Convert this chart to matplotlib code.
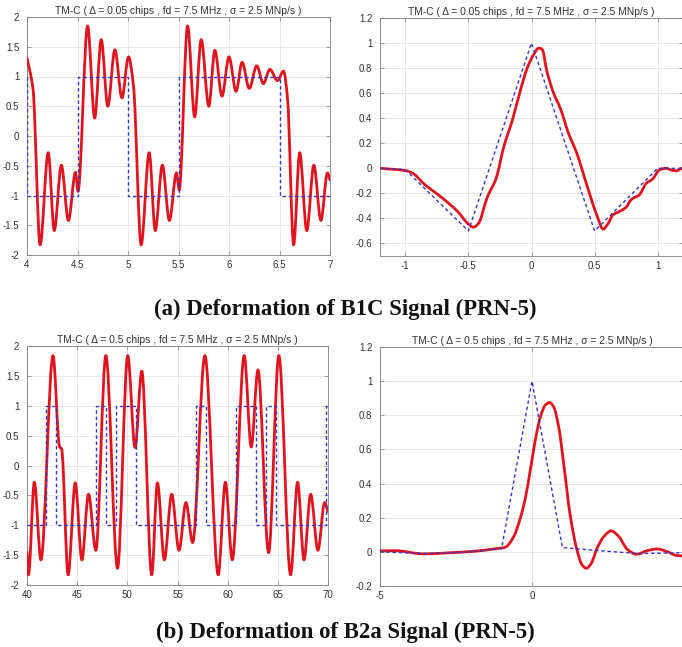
import numpy as np
import matplotlib
matplotlib.use("Agg")
import matplotlib.pyplot as plt
from matplotlib.path import Path
from matplotlib.patches import PathPatch
from matplotlib.ticker import FuncFormatter

plt.rcParams['font.family'] = ['Liberation Sans', 'DejaVu Sans']
plt.rcParams['axes.unicode_minus'] = False

# (a) B1C waveform, 4..7 chips
b1c_edges = [4, 4, 4.5, 5, 5.5, 6.5, 7]
b1c_levels = [1, -1, 1, -1, 1, -1]
b1c_x = [4.00, 4.06, 4.13, 4.21, 4.27, 4.34, 4.41, 4.48, 4.505, 4.60, 4.67, 4.735,
         4.80, 4.87, 4.94, 5.005, 5.055, 5.13, 5.21, 5.27, 5.34, 5.41, 5.48, 5.507,
         5.59, 5.66, 5.725, 5.80, 5.86, 5.93, 6.00, 6.07, 6.13, 6.20, 6.275, 6.34,
         6.405, 6.48, 6.54, 6.58, 6.64, 6.70, 6.77, 6.84, 6.91, 6.975, 7.00]
b1c_y = [1.31, 0.78, -1.83, -0.28, -1.59, -0.49, -1.42, -0.61, -0.93, 1.85, 0.30, 1.62,
         0.50, 1.45, 0.64, 1.33, 0.83, -1.83, -0.28, -1.59, -0.49, -1.42, -0.62, -0.91,
         1.85, 0.32, 1.62, 0.50, 1.44, 0.67, 1.33, 0.75, 1.24, 0.80, 1.18, 0.88,
         1.12, 0.93, 1.09, 0.62, -1.83, -0.28, -1.59, -0.49, -1.42, -0.62, -0.74]

# (a) B1C correlation
b1c_corr_ideal_x = [-1.2, -1.0, -0.5, 0.0, 0.5, 1.0, 1.2]
b1c_corr_ideal_y = [0.0, -0.01, -0.5, 1.0, -0.5, 0.0, 0.0]
b1c_corr_x = [-1.19, -0.99, -0.94, -0.845, -0.715, -0.58, -0.505, -0.46, -0.42, -0.35,
              -0.28, -0.22, -0.15, -0.086, -0.034, 0.018, 0.058, 0.084, 0.123, 0.175,
              0.228, 0.293, 0.359, 0.437, 0.516, 0.568, 0.607, 0.647, 0.686, 0.75,
              0.79, 0.856, 0.908, 0.96, 1.013, 1.065, 1.105, 1.144, 1.19]
b1c_corr_y = [0.0, -0.02, -0.04, -0.13, -0.23, -0.35, -0.44, -0.47, -0.44, -0.23,
              -0.08, 0.17, 0.39, 0.63, 0.80, 0.91, 0.96, 0.95, 0.77, 0.60,
              0.48, 0.28, 0.12, -0.13, -0.37, -0.485, -0.44, -0.37, -0.35, -0.31,
              -0.25, -0.21, -0.12, -0.085, -0.013, 0.0, -0.013, -0.02, 0.0]

# (b) B2a waveform, 40..70 chips
b2a_edges = [40, 41.85, 42.85, 46.85, 47.85, 48.85, 50.85, 56.85, 57.85, 60.85,
             62.85, 63.85, 64.85, 69.85, 70]
b2a_levels = [-1, 1, -1, 1, -1, 1, -1, 1, -1, 1, -1, 1, -1, 1]
b2a_x = [40.0, 40.15, 40.73, 41.39, 42.59, 43.25, 43.45, 44.1, 44.81, 45.47, 46.13,
         46.86, 47.86, 49.02, 50.04, 50.77, 51.44, 52.43, 53.0, 53.69, 54.42, 55.15,
         55.84, 56.51, 57.73, 59.06, 59.77, 60.46, 61.65, 62.35, 63.02, 64.08, 65.1,
         66.27, 66.97, 67.61, 68.27, 69.0, 69.66, 70.0]
b2a_y = [-1.45, -1.83, -0.28, -1.58, 1.84, 0.31, 0.28, -1.83, -0.29, -1.58, -0.48,
         -1.42, 1.84, -1.72, 1.84, 0.30, 1.58, -1.83, -0.29, -1.58, -0.48, -1.42,
         -0.62, -1.29, 1.84, -1.83, -0.28, -1.58, 1.84, 0.31, 1.60, -1.46, 1.84,
         -1.83, -0.28, -1.58, -0.48, -1.42, -0.62, -0.77]

# (b) B2a correlation
b2a_corr_ideal_x = [-5, -3.5, -2, -1, 0, 1, 2, 3.5, 5]
b2a_corr_ideal_y = [0.0, -0.01, 0.0, 0.02, 1.0, 0.025, 0.01, -0.01, -0.005]
b2a_corr_x = [-5.0, -4.5, -3.57, -2.69, -1.92, -1.26, -0.88, -0.60, -0.385, -0.22,
              -0.055, 0.11, 0.275, 0.44, 0.58, 0.71, 0.88, 1.04, 1.26, 1.48, 1.65,
              1.79, 1.95, 2.14, 2.36, 2.60, 2.86, 3.13, 3.44, 3.79, 4.12, 4.45,
              4.78, 5.0]
b2a_corr_y = [0.005, 0.007, -0.012, -0.005, 0.003, 0.017, 0.027, 0.09, 0.197, 0.314,
              0.48, 0.656, 0.79, 0.86, 0.875, 0.85, 0.73, 0.52, 0.21, 0.011, -0.077,
              -0.096, -0.067, 0.021, 0.089, 0.123, 0.089, 0.015, -0.014, 0.007, 0.017,
              0.001, -0.022, -0.024]

RED = '#e0141e'
BLUE = '#3535c8'
GRAY = '#808080'
TXT = '#333333'


def smooth_curve(ax, xs, ys):
    # draw the read points as a smooth (monotone cubic) path, like the original plot
    x = np.asarray(xs, float)
    y = np.asarray(ys, float)
    h = np.diff(x)
    d = np.diff(y) / h
    m = np.zeros_like(x)
    for i in range(1, len(x) - 1):
        if d[i - 1] * d[i] > 0:
            w1 = 2 * h[i] + h[i - 1]
            w2 = h[i] + 2 * h[i - 1]
            m[i] = (w1 + w2) / (w1 / d[i - 1] + w2 / d[i])
    m[0] = d[0]
    m[-1] = d[-1]
    verts = [(x[0], y[0])]
    codes = [Path.MOVETO]
    for i in range(len(x) - 1):
        verts += [(x[i] + h[i] / 3, y[i] + m[i] * h[i] / 3),
                  (x[i + 1] - h[i] / 3, y[i + 1] - m[i + 1] * h[i] / 3),
                  (x[i + 1], y[i + 1])]
        codes += [Path.CURVE4] * 3
    ax.add_patch(PathPatch(Path(verts, codes), fill=False, edgecolor=RED, lw=2.0,
                           joinstyle='round', capstyle='round', zorder=3))


def square(edges, levels):
    xs, ys = [], []
    for i, lv in enumerate(levels):
        xs += [edges[i], edges[i + 1]]
        ys += [lv, lv]
    return xs, ys


def style(ax, title, xlim, ylim, xticks, yticks):
    ax.set_xlim(xlim)
    ax.set_ylim(ylim)
    ax.set_xticks(xticks)
    ax.set_yticks(yticks)
    fmt = FuncFormatter(lambda v, p: f'{round(v, 6) + 0:g}')
    ax.xaxis.set_major_formatter(fmt)
    ax.yaxis.set_major_formatter(fmt)
    ax.grid(True, color='#e3e3e3', lw=0.6)
    ax.set_axisbelow(True)
    for s in ax.spines.values():
        s.set_color(GRAY)
        s.set_linewidth(0.6)
    ax.tick_params(direction='in', top=True, right=True, length=3, width=0.5,
                   color=GRAY, labelcolor=TXT, labelsize=7)
    ax.tick_params(axis='y', pad=5.5)
    ax.tick_params(axis='x', pad=3.5)
    ax.set_title(title, fontsize=7.4, color=TXT, pad=2.5)


fig = plt.figure(figsize=(6.82, 6.47), dpi=100)
W, H = 682, 647
ax1 = fig.add_axes([27 / W, 1 - 255 / H, 303 / W, 238 / H])
ax2 = fig.add_axes([380 / W, 1 - 256 / H, 303 / W, 238 / H])
ax3 = fig.add_axes([27 / W, 1 - 585 / H, 301 / W, 239 / H])
ax4 = fig.add_axes([380 / W, 1 - 586 / H, 304 / W, 239 / H])

t1 = 'TM-C ( \u0394 = 0.05 chips , fd = 7.5 MHz , \u03c3 = 2.5 MNp/s )'
t2 = 'TM-C ( \u0394 = 0.5 chips , fd = 7.5 MHz , \u03c3 = 2.5 MNp/s )'
dash = dict(color=BLUE, lw=1.0, ls=(0, (2.5, 2)), zorder=4)

sx, sy = square(b1c_edges, b1c_levels)
smooth_curve(ax1, b1c_x, b1c_y)
ax1.plot(sx, sy, **dash)
style(ax1, t1, (4, 7), (-2, 2), np.arange(4, 7.01, 0.5), np.arange(-2, 2.01, 0.5))

smooth_curve(ax2, b1c_corr_x, b1c_corr_y)
ax2.plot(b1c_corr_ideal_x, b1c_corr_ideal_y, **dash)
style(ax2, t1, (-1.2, 1.2), (-0.7, 1.2), [-1, -0.5, 0, 0.5, 1], np.arange(-0.6, 1.21, 0.2))

sx, sy = square(b2a_edges, b2a_levels)
smooth_curve(ax3, b2a_x, b2a_y)
ax3.plot(sx, sy, **dash)
style(ax3, t2, (40, 70), (-2, 2), np.arange(40, 71, 5), np.arange(-2, 2.01, 0.5))

smooth_curve(ax4, b2a_corr_x, b2a_corr_y)
ax4.plot(b2a_corr_ideal_x, b2a_corr_ideal_y, **dash)
style(ax4, t2, (-5, 5), (-0.2, 1.2), [-5, 0, 5], np.arange(-0.2, 1.21, 0.2))

cap = dict(ha='center', va='center', fontsize=16.4, fontweight='bold',
           family=['Liberation Serif', 'DejaVu Serif'], color='#111111')
fig.text(345.5 / W, 1 - 309 / H, '(a) Deformation of B1C Signal (PRN-5)', **cap)
fig.text(345 / W, 1 - 632 / H, '(b) Deformation of B2a Signal (PRN-5)', **cap)

fig.savefig('out.png', dpi=100, facecolor='white')
